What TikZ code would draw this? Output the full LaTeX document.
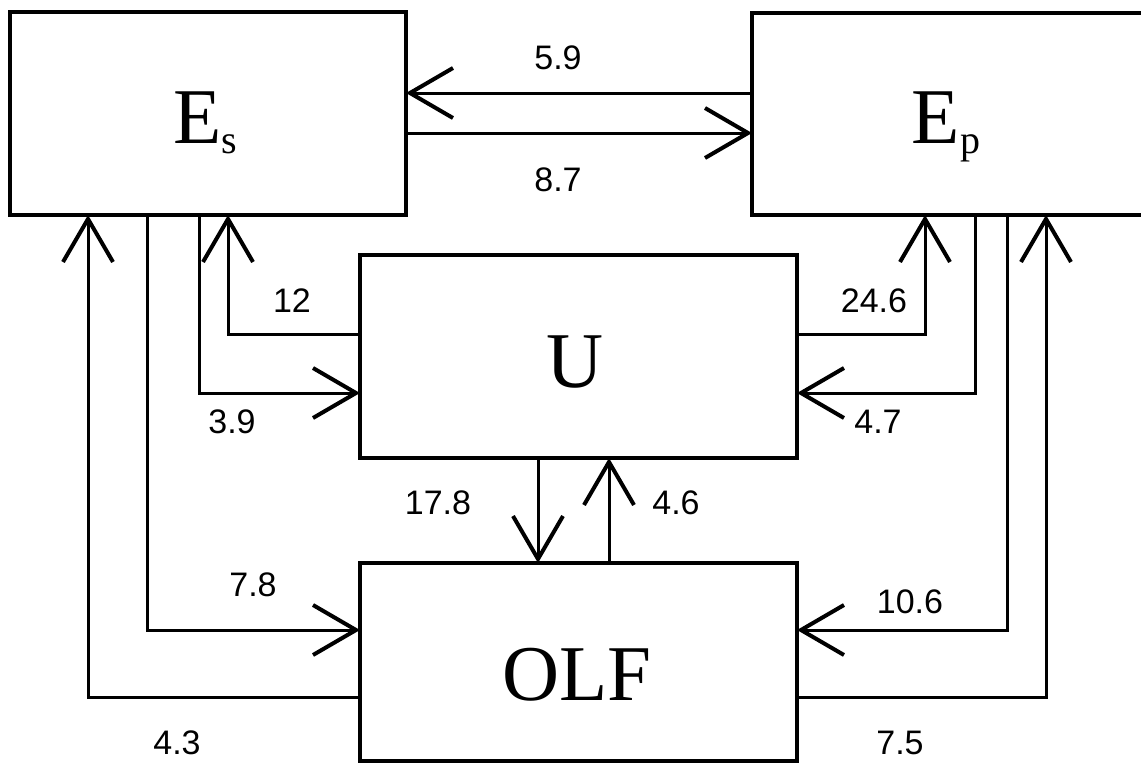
\documentclass[tikz,border=0pt]{standalone}
\usepackage{fontspec}
\setmainfont{Liberation Serif}
\newfontfamily\labelsans{Liberation Sans}
\usetikzlibrary{arrows.meta}
\newcommand{\boxsub}[1]{\raisebox{-10pt}{\fontsize{40}{48}\selectfont #1}}
\tikzset{
  blk/.style={draw, line width=4pt, rectangle, outer sep=0pt, inner sep=0pt, line join=miter},
  blktext/.style={font=\fontsize{79}{90}\selectfont, inner sep=0pt},
  val/.style={font=\labelsans\fontsize{34}{38}\selectfont, inner sep=0pt},
  conn/.style={line width=3pt, line join=miter},
  arr/.style={conn, -{Straight Barb[length=43pt,width=50pt,line width=4pt]}}
}
\begin{document}
\begin{tikzpicture}[x=1pt,y=-1pt]
\useasboundingbox (0,0) rectangle (1141,764);
\clip (0,0) rectangle (1141,764);
% boxes
\node[blk, minimum width=396pt, minimum height=203pt] (Es) at (208,113.5) {};
\node[blk, minimum width=396pt, minimum height=202pt] (Ep) at (950,114) {};
\node[blk, minimum width=437pt, minimum height=203pt] (U) at (578.5,356.5) {};
\node[blk, minimum width=437pt, minimum height=198pt] (OLF) at (578.5,662) {};
% box texts
\node[blktext, anchor=base] (EsT) at (205,143) {E\boxsub{s}};
\node[blktext, anchor=base] (EpT) at (946,143) {E\boxsub{p}};
\node[blktext, anchor=base] (UT) at (575,387) {U};
\node[blktext, anchor=base] (OLFT) at (577,700) {OLF};
% helper coordinates
\coordinate (h93) at (0,93);
\coordinate (h133) at (0,133);
\coordinate (h334) at (0,334);
\coordinate (h393) at (0,393);
\coordinate (h630) at (0,630);
\coordinate (h697) at (0,697);
\coordinate (v88) at (88,0);
\coordinate (v147) at (147,0);
\coordinate (v199) at (199,0);
\coordinate (v228) at (228,0);
\coordinate (v538) at (538,0);
\coordinate (v609) at (609,0);
\coordinate (v925) at (925,0);
\coordinate (v975) at (975,0);
\coordinate (v1007) at (1007,0);
\coordinate (v1046) at (1046,0);
% connectors
\draw[arr] (Ep.west |- h93) -- (Es.east |- h93);
\draw[arr] (Es.east |- h133) -- (Ep.west |- h133);
\draw[arr] (U.west |- h334) -| (Es.south -| v228);
\draw[arr] (Es.south -| v199) |- (U.west |- h393);
\draw[arr] (Es.south -| v147) |- (OLF.west |- h630);
\draw[arr] (OLF.west |- h697) -| (Es.south -| v88);
\draw[arr] (U.east |- h334) -| (Ep.south -| v925);
\draw[arr] (Ep.south -| v975) |- (U.east |- h393);
\draw[arr] (Ep.south -| v1007) |- (OLF.east |- h630);
\draw[arr] (OLF.east |- h697) -| (Ep.south -| v1046);
\draw[arr] (U.south -| v538) -- (OLF.north -| v538);
\draw[arr] (OLF.north -| v609) -- (U.south -| v609);
% values
\node[val] (l59) at (558,58) {5.9};
\node[val] (l87) at (558,180) {8.7};
\node[val] (l12) at (292,301) {12};
\node[val] (l39) at (232,422) {3.9};
\node[val] (l246) at (874,301) {24.6};
\node[val] (l47) at (878,422) {4.7};
\node[val] (l178) at (438,503) {17.8};
\node[val] (l46) at (676,503) {4.6};
\node[val] (l78) at (253,585) {7.8};
\node[val] (l43) at (177,743) {4.3};
\node[val] (l106) at (910,602) {10.6};
\node[val] (l75) at (900,743) {7.5};
\end{tikzpicture}
\end{document}
